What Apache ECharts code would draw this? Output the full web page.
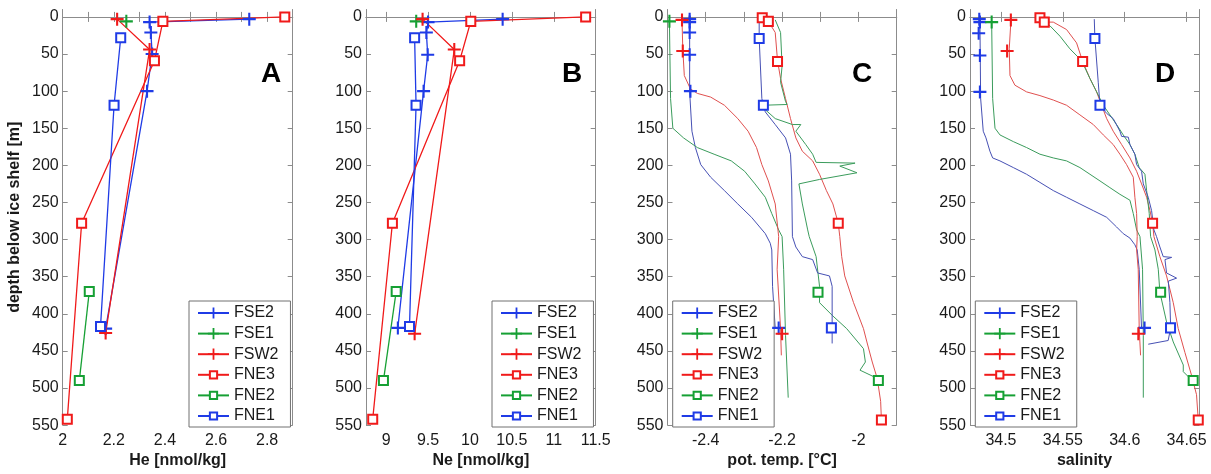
<!DOCTYPE html>
<html><head><meta charset="utf-8">
<script src="https://cdn.jsdelivr.net/npm/echarts@6/dist/echarts.min.js"></script>
<style>html,body{margin:0;padding:0;background:#fff;}#c{width:1211px;height:474px;}</style>
</head><body><div id="c"></div>
<script>
// ---------- tick labels ----------
const depthTicks = [0,50,100,150,200,250,300,350,400,450,500,550];
const heTicks = [2,2.1,2.2,2.3,2.4,2.5,2.6,2.7,2.8,2.9];
const heLabels = [2,2.2,2.4,2.6,2.8];
const neTicks = [9,9.5,10,10.5,11,11.5];
const neLabels = [9,9.5,10,10.5,11,11.5];
const tTicks = [-2.5,-2.4,-2.3,-2.2,-2.1,-2,-1.9];
const tLabels = [-2.4,-2.2,-2];
const sTicks = [34.5,34.55,34.6,34.65];
const sLabels = [34.5,34.55,34.6,34.65];
const stations = ['FSE2','FSE1','FSW2','FNE3','FNE2','FNE1'];
const panelLetters = ['A','B','C','D'];
const axisNames = ['He [nmol/kg]','Ne [nmol/kg]','pot. temp. [°C]','salinity'];

// ---------- Panel A: He [value, depth] ----------
const heFSE2 = [[2.73,3],[2.34,7],[2.345,21],[2.35,50],[2.33,100],[2.168,420]];
const heFSE1 = [[2.249,6]];
const heFSW2 = [[2.213,3],[2.34,44],[2.168,426]];
const heFNE3 = [[2.869,0],[2.392,6],[2.359,59],[2.074,278],[2.018,542]];
const heFNE2 = [[2.104,370],[2.065,490]];
const heFNE1 = [[2.227,28],[2.201,119],[2.148,417]];

// ---------- Panel B: Ne ----------
const neFSE2 = [[10.39,3],[9.5,7],[9.48,21],[9.496,51],[9.447,100],[9.14,419]];
const neFSE1 = [[9.359,6]];
const neFSW2 = [[9.435,3],[9.813,44],[9.34,427]];
const neFNE3 = [[11.38,0],[10.01,6],[9.877,59],[9.075,278],[8.84,542]];
const neFNE2 = [[9.12,370],[8.968,490]];
const neFNE1 = [[9.34,28],[9.357,119],[9.279,417]];

// ---------- Panel C: pot. temp. samples ----------
const tFSE2 = [[-2.442,3],[-2.442,7],[-2.442,21],[-2.442,51],[-2.44,100],[-2.209,419]];
const tFSE1 = [[-2.495,6]];
const tFSW2 = [[-2.462,4],[-2.46,46],[-2.2,427]];
const tFNE3 = [[-2.252,1],[-2.236,6],[-2.212,60],[-2.053,278],[-1.94,543]];
const tFNE2 = [[-2.106,371],[-1.948,490]];
const tFNE1 = [[-2.26,29],[-2.249,119],[-2.071,419]];
// CTD profiles
const ctdTFSE2 = [[-2.442,1],[-2.442,101],[-2.436,154],[-2.427,176],[-2.413,199],[-2.387,216],[-2.351,234],[-2.316,252],[-2.28,270],[-2.244,292],[-2.231,305],[-2.227,314],[-2.225,363],[-2.218,420]];
const ctdTFSE1 = [[-2.495,6],[-2.492,110],[-2.486,150],[-2.458,163],[-2.422,176],[-2.378,185],[-2.333,194],[-2.298,208],[-2.271,225],[-2.244,243],[-2.227,265],[-2.209,287],[-2.2,296],[-2.196,340],[-2.191,429],[-2.184,513]];
const ctdTFSW2 = [[-2.462,4],[-2.46,43],[-2.456,79],[-2.44,97],[-2.422,103],[-2.387,108],[-2.351,119],[-2.316,137],[-2.289,154],[-2.267,176],[-2.253,199],[-2.236,221],[-2.218,252],[-2.209,296],[-2.213,340],[-2.204,420],[-2.202,456]];
const ctdTFNE3 = [[-2.252,1],[-2.236,6],[-2.218,21],[-2.212,59],[-2.204,83],[-2.191,110],[-2.178,137],[-2.164,163],[-2.147,181],[-2.12,194],[-2.102,212],[-2.084,234],[-2.067,252],[-2.053,278],[-2.049,296],[-2.044,323],[-2.036,349],[-2.013,385],[-1.987,420],[-1.978,438],[-1.964,465],[-1.951,487],[-1.942,518],[-1.94,543]];
const ctdTFNE2 = [[-2.218,4],[-2.204,21],[-2.2,66],[-2.204,88],[-2.191,114],[-2.187,118],[-2.249,119],[-2.244,125],[-2.218,137],[-2.173,145],[-2.151,145],[-2.164,154],[-2.138,172],[-2.12,185],[-2.111,196],[-2.009,197],[-2.049,201],[-2.004,210],[-2.102,219],[-2.156,225],[-2.147,252],[-2.133,287],[-2.129,296],[-2.111,323],[-2.102,363],[-2.102,385],[-2.067,403],[-2.031,420],[-1.987,447],[-1.982,465],[-1.996,476],[-1.951,487],[-1.947,491]];
const ctdTFNE1 = [[-2.26,3],[-2.26,29],[-2.253,110],[-2.249,119],[-2.244,128],[-2.218,145],[-2.191,163],[-2.178,185],[-2.175,221],[-2.173,296],[-2.164,310],[-2.147,323],[-2.12,327],[-2.107,345],[-2.076,349],[-2.069,363],[-2.069,420],[-2.069,440]];

// ---------- Panel D: salinity samples ----------
const sFSE2 = [[34.4825,3],[34.483,7],[34.482,22],[34.483,52],[34.483,101],[34.616,419]];
const sFSE1 = [[34.4925,7]];
const sFSW2 = [[34.508,4],[34.505,46],[34.611,427]];
const sFNE3 = [[34.5315,1],[34.535,7],[34.566,60],[34.6225,278],[34.6594,543]];
const sFNE2 = [[34.629,371],[34.6553,490]];
const sFNE1 = [[34.5759,29],[34.58,119],[34.637,419]];
// CTD profiles
const ctdSFSE2 = [[34.483,1],[34.4836,110],[34.4857,154],[34.4879,163],[34.4911,181],[34.4933,190],[34.4992,194],[34.51,203],[34.5207,212],[34.5315,223],[34.5423,234],[34.553,243],[34.5638,252],[34.5746,261],[34.5854,270],[34.5934,283],[34.5988,292],[34.6042,298],[34.6082,307],[34.6101,314],[34.6117,340],[34.6136,420]];
const ctdSFSE1 = [[34.4925,7],[34.4933,110],[34.4952,150],[34.4992,159],[34.51,168],[34.5207,176],[34.5315,185],[34.5423,190],[34.553,194],[34.5638,203],[34.5719,212],[34.58,221],[34.588,230],[34.5961,239],[34.6042,247],[34.6069,265],[34.6096,287],[34.6123,296],[34.6144,340],[34.615,429],[34.615,513]];
const ctdSFSW2 = [[34.5081,4],[34.5067,43],[34.5073,79],[34.5113,92],[34.5207,101],[34.5315,106],[34.5423,112],[34.553,119],[34.5638,132],[34.5746,145],[34.5827,159],[34.5907,172],[34.5961,185],[34.6015,199],[34.6069,216],[34.6082,243],[34.6096,265],[34.6101,296],[34.6096,314],[34.6109,340],[34.6117,420],[34.6128,456]];
const ctdSFNE3 = [[34.5315,1],[34.535,7],[34.5423,7],[34.553,17],[34.5611,35],[34.566,60],[34.5719,83],[34.5773,101],[34.5813,119],[34.5854,137],[34.5907,154],[34.5975,172],[34.6042,190],[34.6096,208],[34.6136,225],[34.6177,243],[34.6204,261],[34.6225,278],[34.6236,296],[34.6284,323],[34.6338,349],[34.6392,385],[34.6432,420],[34.6486,452],[34.654,483],[34.658,509],[34.6594,543]];
const ctdSFNE2 = [[34.535,7],[34.5396,12],[34.5477,26],[34.5557,43],[34.5652,59],[34.5719,83],[34.5773,101],[34.5827,119],[34.588,132],[34.5934,145],[34.5988,159],[34.6042,172],[34.6082,185],[34.6117,203],[34.6163,212],[34.6177,234],[34.6198,265],[34.6209,296],[34.6244,314],[34.6271,340],[34.6284,371],[34.6338,411],[34.6392,438],[34.6473,469],[34.6473,478],[34.6527,487],[34.6554,490]];
const ctdSFNE1 = [[34.5754,3],[34.5759,29],[34.5786,88],[34.58,119],[34.5854,130],[34.5907,137],[34.5961,154],[34.5975,161],[34.6029,162],[34.6042,172],[34.6082,185],[34.6096,199],[34.6136,208],[34.615,225],[34.619,243],[34.6217,261],[34.6236,287],[34.6257,296],[34.6284,310],[34.6311,323],[34.6379,324],[34.6325,327],[34.6338,345],[34.6419,352],[34.6352,356],[34.6365,385],[34.6371,419],[34.6351,436],[34.619,441]];

// ---------- build ----------
const FONT = 'Liberation Sans, Arial, sans-serif';
const CROSS = 'path://M-0.16,-1L0.16,-1L0.16,-0.16L1,-0.16L1,0.16L0.16,0.16L0.16,1L-0.16,1L-0.16,0.16L-1,0.16L-1,-0.16L-0.16,-0.16Z';
// square outline inside a larger invisible bounding box (so it draws smaller than the cross)
const SQUARE = 'path://M-1.55,-1.55L-1.55,-1.55ZM1.55,1.55L1.55,1.55ZM-1,-1L1,-1L1,1L-1,1Z';
const look = {
  FSE2:{c:'#1f3be6', ctd:'#4650b4', sym:CROSS},
  FSE1:{c:'#16a034', ctd:'#3b9c5c', sym:CROSS},
  FSW2:{c:'#f01a1a', ctd:'#e0504f', sym:CROSS},
  FNE3:{c:'#f01a1a', ctd:'#e0504f', sym:SQUARE},
  FNE2:{c:'#16a034', ctd:'#3b9c5c', sym:SQUARE},
  FNE1:{c:'#1f3be6', ctd:'#4650b4', sym:SQUARE}
};
const panels = [
  {left:62.7, width:230, min:2, max:2.9, ticks:heTicks, labels:heLabels,
   samples:[heFSE2,heFSE1,heFSW2,heFNE3,heFNE2,heFNE1], ctd:null, letterX:272, legendLeft:189},
  {left:366, width:229.7, min:8.76, max:11.5, ticks:neTicks, labels:neLabels,
   samples:[neFSE2,neFSE1,neFSW2,neFNE3,neFNE2,neFNE1], ctd:null, letterX:573, legendLeft:492},
  {left:667.5, width:229.2, min:-2.5, max:-1.9, ticks:tTicks, labels:tLabels,
   samples:[tFSE2,tFSE1,tFSW2,tFNE3,tFNE2,tFNE1], ctd:[ctdTFSE2,ctdTFSE1,ctdTFSW2,ctdTFNE3,ctdTFNE2,ctdTFNE1], letterX:863, legendLeft:672.7},
  {left:970, width:229, min:34.475, max:34.66, ticks:sTicks, labels:sLabels,
   samples:[sFSE2,sFSE1,sFSW2,sFNE3,sFNE2,sFNE1], ctd:[ctdSFSE2,ctdSFSE1,ctdSFSW2,ctdSFNE3,ctdSFNE2,ctdSFNE1], letterX:1166, legendLeft:975.3}
];
const TOP = 9.5, H = 421.2;
const grid = [], xAxis = [], yAxis = [], series = [], legend = [], graphic = [];
const axLine = {show:true, lineStyle:{color:'#8c8c8c', width:1}};
const lblStyle = {fontSize:16, fontFamily:FONT, color:'#1a1a1a'};
panels.forEach((p, i) => {
  grid.push({left:p.left, top:TOP, width:p.width, height:H, show:false});
  xAxis.push({type:'value', gridIndex:i, position:'bottom', min:p.min, max:p.max,
    axisLine:axLine, splitLine:{show:false},
    axisTick:{show:true, inside:true, length:5, lineStyle:{color:'#8c8c8c'}, customValues:p.ticks},
    axisLabel:Object.assign({margin:7, customValues:p.labels, showMinLabel:true, showMaxLabel:true}, lblStyle),
    name:axisNames[i], nameLocation:'middle', nameGap:22,
    nameTextStyle:{fontSize:16, fontWeight:'bold', fontFamily:FONT, color:'#1a1a1a'}});
  yAxis.push({type:'value', gridIndex:i, position:'left', min:-10, max:550, inverse:true,
    axisLine:axLine, splitLine:{show:false},
    axisTick:{show:true, inside:true, length:5, lineStyle:{color:'#8c8c8c'}, customValues:depthTicks},
    axisLabel:Object.assign({margin:4, customValues:depthTicks}, lblStyle),
    name: i===0 ? 'depth below ice shelf [m]' : '', nameLocation:'middle', nameGap:40, nameRotate:90,
    nameTextStyle:{fontSize:16, fontWeight:'bold', fontFamily:FONT, color:'#1a1a1a'}});
});
panels.forEach((p, i) => {
  xAxis.push({type:'value', gridIndex:i, position:'top', min:p.min, max:p.max,
    axisLine:axLine, splitLine:{show:false}, axisLabel:{show:false},
    axisTick:{show:true, inside:true, length:5, lineStyle:{color:'#8c8c8c'}, customValues:p.ticks}});
  yAxis.push({type:'value', gridIndex:i, position:'right', min:-10, max:550, inverse:true,
    axisLine:axLine, splitLine:{show:false}, axisLabel:{show:false},
    axisTick:{show:true, inside:true, length:5, lineStyle:{color:'#8c8c8c'}, customValues:depthTicks}});
});
function markStyle(L) {
  return L.sym === CROSS
    ? {color:L.c, borderWidth:0, opacity:1}
    : {color:'#ffffff', borderColor:L.c, borderWidth:2, opacity:1};
}
panels.forEach((p, i) => {
  stations.forEach((st, k) => {
    const L = look[st];
    const isCross = L.sym === CROSS;
    if (!p.ctd) {
      series.push({type:'line', name:st, xAxisIndex:i, yAxisIndex:i, data:p.samples[k],
        symbol:L.sym, symbolSize: isCross ? 13 : 14, showAllSymbol:true,
        itemStyle:markStyle(L),
        lineStyle:{color:L.c, width:1.3}, z:3, animation:false});
    } else {
      series.push({type:'line', name:st, xAxisIndex:i, yAxisIndex:i, data:p.ctd[k],
        symbol:'none', lineStyle:{color:L.ctd, width:1}, z:2, animation:false});
      series.push({type:'scatter', name:st, xAxisIndex:i, yAxisIndex:i, data:p.samples[k],
        symbol:L.sym, symbolSize: isCross ? 13 : 14,
        itemStyle:markStyle(L), z:4, animation:false});
    }
  });
  legend.push({orient:'vertical', left:p.legendLeft, top:301, padding:[4,12,3,8],
    itemWidth:31, itemHeight:14, itemGap:4.6, borderColor:'#707070', borderWidth:1,
    backgroundColor:'#fff', selectedMode:false, data:stations,
    textStyle:{fontSize:16, lineHeight:16, fontFamily:FONT, color:'#1a1a1a'}});
  graphic.push({type:'text', left:p.letterX - 11, top:60, z:10,
    style:{text:panelLetters[i], font:'bold 28px ' + FONT, fill:'#000'}});
});
const chart = echarts.init(document.getElementById('c'), null, {renderer:'canvas'});
chart.setOption({animation:false, backgroundColor:'#fff', grid, xAxis, yAxis, series, legend, graphic});
</script>
</body></html>
